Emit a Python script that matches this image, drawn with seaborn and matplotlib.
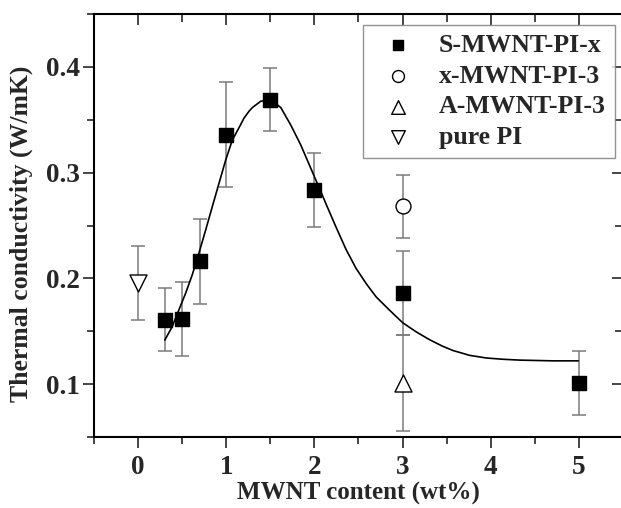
import matplotlib
matplotlib.use("Agg")
import matplotlib.pyplot as plt
from matplotlib.ticker import MultipleLocator, FormatStrFormatter
import pandas as pd
import seaborn as sns

# S-MWNT-PI-x samples
s_x = [0.3, 0.5, 0.7, 1.0, 1.5, 2.0, 3.0, 5.0]
s_y = [0.161, 0.162, 0.216, 0.336, 0.369, 0.284, 0.186, 0.101]
s_err = [0.030, 0.035, 0.040, 0.050, 0.030, 0.035, 0.040, 0.030]

# single samples
x_x, x_y, x_err = [3.0], [0.268], [0.030]
a_x, a_y, a_err = [3.0], [0.101], [0.045]
p_x, p_y, p_err = [0.0], [0.196], [0.035]

# fitted curve
fit_x = [0.303, 0.386, 0.462, 0.538, 0.613, 0.689, 0.766, 0.841, 0.917, 0.993,
         1.068, 1.164, 1.201, 1.258, 1.296, 1.391, 1.505, 1.619, 1.733, 1.846,
         1.960, 2.074, 2.131, 2.245, 2.358, 2.472, 2.586, 2.700, 2.851, 3.002,
         3.155, 3.306, 3.450, 3.571, 3.761, 3.951, 4.140, 4.330, 4.709, 4.993]
fit_y = [0.1416, 0.1542, 0.1700, 0.1857, 0.2030, 0.2235, 0.2456, 0.2676,
         0.2897, 0.3117, 0.3306, 0.3455, 0.3515, 0.3580, 0.3615, 0.3675,
         0.3690, 0.3615, 0.3448, 0.3260, 0.3039, 0.2818, 0.2705, 0.2485,
         0.2275, 0.2095, 0.1952, 0.1825, 0.1700, 0.1580, 0.1494, 0.1420,
         0.1360, 0.1318, 0.1272, 0.1247, 0.1235, 0.1227, 0.1220, 0.1220]

sns.set_theme(style="ticks")
plt.rcParams["font.family"] = ["Liberation Serif", "DejaVu Serif"]
plt.rcParams["font.weight"] = "bold"
plt.rcParams["axes.labelweight"] = "bold"

fig = plt.figure(figsize=(6.21, 5.08), dpi=100)
ax = fig.add_axes([94 / 621, 71 / 508, 529 / 621, 423 / 508])

series = [
    ("S-MWNT-PI-x", s_x, s_y, s_err, "s", "black", 90),
    ("x-MWNT-PI-3", x_x, x_y, x_err, "o", "white", 115),
    ("A-MWNT-PI-3", a_x, a_y, a_err, "^", "white", 150),
    ("pure PI", p_x, p_y, p_err, "v", "white", 150),
]

for name, xs, ys, es, m, fc, size in series:
    ax.errorbar(xs, ys, yerr=es, fmt="none", ecolor="#7a7a7a", elinewidth=1.1,
                capsize=5, capthick=1.1, zorder=2)

fit = pd.DataFrame({"x": fit_x, "y": fit_y})
sns.lineplot(data=fit, x="x", y="y", color="black", linewidth=1.2, ax=ax,
             zorder=3)

for name, xs, ys, es, m, fc, size in series:
    df = pd.DataFrame({"x": xs, "y": ys})
    sns.scatterplot(data=df, x="x", y="y", marker=m, s=size, facecolor=fc,
                    edgecolor="black", linewidth=1.0, label=name, ax=ax,
                    zorder=4)

ax.set_xlim(-0.5, 5.5)
ax.set_ylim(0.05, 0.45)
ax.xaxis.set_major_locator(MultipleLocator(1))
ax.xaxis.set_minor_locator(MultipleLocator(0.5))
ax.yaxis.set_major_locator(MultipleLocator(0.1))
ax.yaxis.set_minor_locator(MultipleLocator(0.05))
ax.yaxis.set_major_formatter(FormatStrFormatter("%.1f"))
ax.tick_params(which="major", direction="out", length=8, width=1.2,
               labelsize=19.5)
ax.tick_params(axis="x", which="major", pad=5)
ax.tick_params(axis="y", which="major", pad=2)
ax.tick_params(which="minor", direction="out", length=5, width=1.2)
for sp in ax.spines.values():
    sp.set_linewidth(1.5)
    sp.set_color("black")

top = ax.secondary_xaxis("top")
top.xaxis.set_major_locator(MultipleLocator(1))
top.xaxis.set_minor_locator(MultipleLocator(0.5))
top.tick_params(which="major", direction="in", length=8, width=1.2,
                labeltop=False)
top.tick_params(which="minor", direction="in", length=6, width=1.2)
right = ax.secondary_yaxis("right")
right.yaxis.set_major_locator(MultipleLocator(0.1))
right.yaxis.set_minor_locator(MultipleLocator(0.05))
right.tick_params(which="major", direction="in", length=8, width=1.2,
                  labelright=False)
right.tick_params(which="minor", direction="in", length=6, width=1.2)

ax.set_xlabel("MWNT content (wt%)", fontsize=18, fontweight="bold", labelpad=1)
ax.set_ylabel("Thermal conductivity (W/mK)", fontsize=18.5, fontweight="bold")
ax.yaxis.set_label_coords(-0.115, 0.48)

leg = ax.legend(loc="upper right", bbox_to_anchor=(0.985, 0.974), fontsize=18.5,
                frameon=True, fancybox=False, borderpad=0.35, labelspacing=0.3,
                handletextpad=0.6, markerscale=0.8, borderaxespad=0)
leg.get_frame().set_edgecolor("#777777")
leg.get_frame().set_linewidth(1.0)
for t in leg.get_texts():
    t.set_fontweight("bold")

fig.savefig("out.png", dpi=100)
